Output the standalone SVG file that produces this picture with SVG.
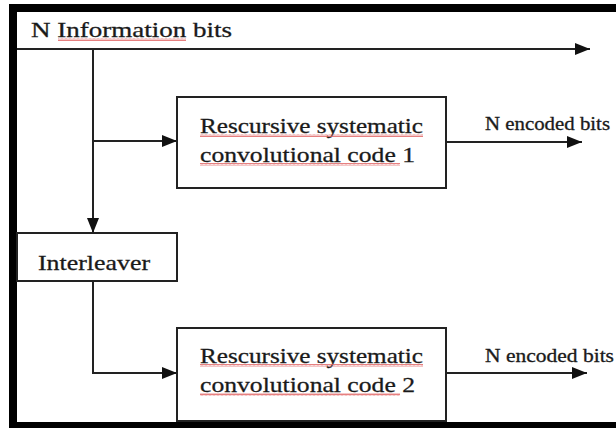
<svg xmlns="http://www.w3.org/2000/svg" width="616" height="428" viewBox="0 0 616 428">
<style>
text{font-family:"Liberation Serif","DejaVu Serif",serif;fill:#1a1a1a;stroke:#1a1a1a;stroke-width:0.3}
.t{font-size:22px}
.s{font-size:18px}
.box{fill:#fff;stroke:#222;stroke-width:2}
.ln{fill:none;stroke:#222;stroke-width:2}
.sq{fill:url(#wave)}
</style>
<defs>
<marker id="ah" markerWidth="16" markerHeight="12" refX="15" refY="6" orient="auto" markerUnits="userSpaceOnUse">
<path d="M0,0 L15,6 L0,12 Z" fill="#111"/>
</marker>
<pattern id="wave" width="4" height="3" patternUnits="userSpaceOnUse">
<path d="M0,2.5 L1,0.5 L2,2.5 L3,0.5 L4,2.5" fill="none" stroke="#e06060" stroke-width="0.8"/>
</pattern>
</defs>
<rect width="616" height="428" fill="#fff"/>
<g id="frame">
<rect x="9" y="4" width="607" height="8" fill="#000"/>
<rect x="9" y="4" width="8" height="424" fill="#000"/>
<rect x="9" y="422" width="607" height="6" fill="#000"/>
</g>
<g id="connectors">
<path class="ln" d="M17,49 H590" marker-end="url(#ah)"/>
<path class="ln" d="M93,49 V233" marker-end="url(#ah)"/>
<path class="ln" d="M93,141 H177" marker-end="url(#ah)"/>
<path class="ln" d="M93,281 V373 H177" marker-end="url(#ah)"/>
<path class="ln" d="M446,142 H582" marker-end="url(#ah)"/>
<path class="ln" d="M446,373 H587" marker-end="url(#ah)"/>
</g>
<g id="input-label">
<text class="t" x="31" y="37" textLength="201" lengthAdjust="spacingAndGlyphs">N Information bits</text>
<rect class="sq" x="58" y="38" width="128" height="3"/>
</g>
<g id="rsc1">
<rect class="box" x="177" y="97" width="269" height="91"/>
<text class="t" x="200" y="133" textLength="223" lengthAdjust="spacingAndGlyphs">Rescursive systematic</text>
<text class="t" x="200" y="162" textLength="215" lengthAdjust="spacingAndGlyphs">convolutional code 1</text>
<rect class="sq" x="200" y="134" width="223" height="3"/>
<rect class="sq" x="200" y="163" width="200" height="3"/>
</g>
<g id="interleaver">
<rect class="box" x="17" y="233" width="160" height="48"/>
<text class="t" x="38" y="270" textLength="112" lengthAdjust="spacingAndGlyphs">Interleaver</text>
</g>
<g id="rsc2">
<rect class="box" x="177" y="328" width="269" height="93"/>
<text class="t" x="200" y="363" textLength="223" lengthAdjust="spacingAndGlyphs">Rescursive systematic</text>
<text class="t" x="200" y="392" textLength="215" lengthAdjust="spacingAndGlyphs">convolutional code 2</text>
<rect class="sq" x="200" y="364" width="223" height="3"/>
<rect class="sq" x="200" y="393" width="200" height="3"/>
</g>
<g id="out1">
<text class="s" x="485" y="130" textLength="125" lengthAdjust="spacingAndGlyphs">N encoded bits</text>
</g>
<g id="out2">
<text class="s" x="485" y="362" textLength="129" lengthAdjust="spacingAndGlyphs">N encoded bits</text>
</g>
</svg>
